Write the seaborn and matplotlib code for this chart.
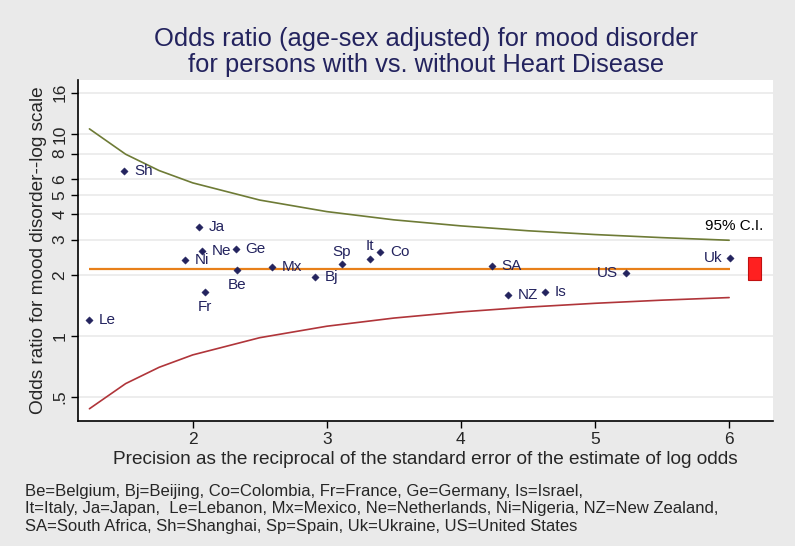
import numpy as np
import pandas as pd
import seaborn as sns
import matplotlib.pyplot as plt

# country codes, precision (1/SE of log odds) and age-sex adjusted odds ratio
codes = ["Le", "Sh", "Ja", "Ne", "Ni", "Ge", "Be", "Fr", "Mx", "Bj",
         "Sp", "It", "Co", "SA", "NZ", "Is", "US", "Uk"]
precision = [1.23, 1.49, 2.05, 2.07, 1.94, 2.32, 2.33, 2.09, 2.59, 2.91,
             3.11, 3.32, 3.40, 4.23, 4.35, 4.63, 5.23, 6.01]
odds_ratio = [1.20, 6.58, 3.45, 2.65, 2.38, 2.69, 2.12, 1.65, 2.20, 1.97,
              2.27, 2.41, 2.62, 2.22, 1.60, 1.65, 2.05, 2.44]

# funnel limits
ci_x = [1.23, 1.5, 1.75, 2.0, 2.5, 3.0, 3.5, 4.0, 4.5, 5.0, 5.5, 6.0]
ci_upper = [10.6, 7.94, 6.59, 5.73, 4.71, 4.13, 3.76, 3.51, 3.32, 3.18, 3.07, 2.98]
ci_lower = [0.437, 0.582, 0.701, 0.807, 0.982, 1.119, 1.228, 1.317, 1.391, 1.453, 1.506, 1.551]

pooled_or = 2.15
pooled_lo = 1.89
pooled_hi = 2.46

yticks = [0.5, 1, 2, 3, 4, 5, 6, 8, 10, 16]
ytick_labels = [".5", "1", "2", "3", "4", "5", "6", "8", "10", "16"]
xticks = [2, 3, 4, 5, 6]

footnote = ("Be=Belgium, Bj=Beijing, Co=Colombia, Fr=France, Ge=Germany, Is=Israel,\n"
            "It=Italy, Ja=Japan,  Le=Lebanon, Mx=Mexico, Ne=Netherlands, Ni=Nigeria, NZ=New Zealand,\n"
            "SA=South Africa, Sh=Shanghai, Sp=Spain, Uk=Ukraine, US=United States")

df = pd.DataFrame({"code": codes, "precision": precision, "odds": odds_ratio})
ci = pd.DataFrame({"x": ci_x, "upper": ci_upper, "lower": ci_lower})

# where the label sits relative to the marker (clock position)
label_pos = {"Fr": 6, "Be": 6, "Sp": 12, "It": 12, "US": 9, "Uk": 9}

sns.set_style("white")
plt.rcParams["font.family"] = ["Liberation Sans", "DejaVu Sans"]
navy = "#23235e"

fig = plt.figure(figsize=(7.95, 5.46), dpi=100, facecolor="#eaeaea")
ax = fig.add_axes([0.0985, 0.2289, 0.8738, 0.6246])
ax.set_facecolor("white")

ax.set_yscale("log")
for t in yticks:
    ax.axhline(t, color="#eaeaea", lw=1.2, zorder=0)

sns.lineplot(data=ci, x="x", y="upper", ax=ax, color="#6e7b36", lw=1.2)
sns.lineplot(data=ci, x="x", y="lower", ax=ax, color="#b0353a", lw=1.2)
ax.hlines(pooled_or, min(precision), max(precision), color="#e8801a", lw=1.6, zorder=2)
ax.bar(6.19, pooled_hi - pooled_lo, bottom=pooled_lo, width=0.1,
       color="#ff2020", edgecolor="#c01010", lw=0.8, zorder=3)

sns.scatterplot(data=df, x="precision", y="odds", ax=ax, marker="D", s=14,
                color=navy, edgecolor=navy, zorder=4)

for c, xv, yv in zip(codes, precision, odds_ratio):
    pos = label_pos.get(c, 3)
    if pos == 3:
        kw = dict(xytext=(7, 0), ha="left", va="center")
    elif pos == 9:
        kw = dict(xytext=(-6, 0), ha="right", va="center")
    elif pos == 12:
        kw = dict(xytext=(0, 4), ha="center", va="bottom")
    else:
        kw = dict(xytext=(0, -6), ha="center", va="top")
    ax.annotate(c, (xv, yv), textcoords="offset points", fontsize=11,
                color=navy, **kw)

ax.text(0.986, 0.572, "95% C.I.", transform=ax.transAxes, ha="right",
        va="center", fontsize=11, color="black")

ax.set_xlim(1.147, 6.327)
ax.set_ylim(0.38, 18.5)
ax.set_yticks(yticks)
ax.set_yticklabels(ytick_labels, rotation=90, va="center", fontsize=12.5)
ax.minorticks_off()
ax.set_xticks(xticks)
ax.set_xticklabels([str(t) for t in xticks], fontsize=12.5)
ax.tick_params(axis="both", direction="out", length=5, width=1, color="black",
               left=True, bottom=True, pad=3)

for side in ["top", "right"]:
    ax.spines[side].set_visible(False)
for side in ["left", "bottom"]:
    ax.spines[side].set_color("black")
    ax.spines[side].set_linewidth(1.2)

ax.set_xlabel("Precision as the reciprocal of the standard error of the estimate of log odds",
              fontsize=13.7, labelpad=3)
ax.set_ylabel("Odds ratio for mood disorder--log scale", fontsize=13.7, labelpad=4)
ax.set_title("Odds ratio (age-sex adjusted) for mood disorder\n"
             "for persons with vs. without Heart Disease",
             fontsize=18.4, color=navy, pad=6, linespacing=1.08)

fig.text(25 / 795, 1 - 484 / 546, footnote, fontsize=12, va="top", ha="left",
         linespacing=1.2)

fig.savefig("out.png", dpi=100, facecolor=fig.get_facecolor())
